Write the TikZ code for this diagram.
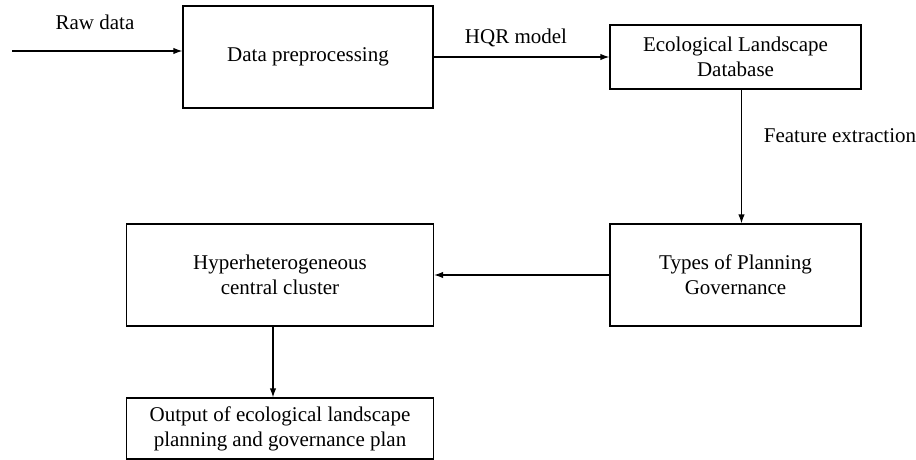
\documentclass[tikz,border=0pt]{standalone}
\usepackage{fontspec}
\setmainfont{Liberation Serif}
\usetikzlibrary{positioning}
\usetikzlibrary{arrows.meta}
\tikzset{
    stagebox/.style = {rectangle, draw=black, line width=0.6pt, align=center, inner sep=2pt, font=\fontsize{10.5}{12.6}\selectfont},
    tagtext/.style = {align=center, inner sep=0pt, font=\fontsize{10.5}{12.6}\selectfont},
    edgen/.style = {-{Latex[length=4.5pt,width=3.2pt]}, line width=0.6pt}
}
\begin{document}
\begin{tikzpicture}[x=0.5pt,y=-0.5pt]
\useasboundingbox (0,0) rectangle (916,460);
%
\node[stagebox, minimum width=125pt, minimum height=51pt] at (308,57) (dp) {Data preprocessing};
\node[stagebox, minimum width=125.5pt, minimum height=32pt] at (735.5,57) (eld) {Ecological Landscape\\Database};
\node[stagebox, minimum width=125.5pt, minimum height=51pt] at (735.5,275) (tpg) {Types of Planning\\Governance};
\node[stagebox, minimum width=153.5pt, minimum height=51pt] at (280,275) (hcc) {Hyperheterogeneous\\central cluster};
\node[stagebox, minimum width=153.5pt, minimum height=30.5pt] at (280,428.5) (out) {Output of ecological landscape\\planning and governance plan};
\coordinate (rawin) at (12,51);
\node[tagtext] at (95,22) (rawlbl) {Raw data};
\node[tagtext] at (516,38) (hqrlbl) {HQR model};
\node[tagtext] at (840,136) (featlbl) {Feature extraction};
%
\draw[edgen] (rawin) -- (rawin -| dp.west);
\draw[edgen] (dp.east) -- (eld.west);
\draw[edgen] ([xshift=3pt]eld.south) -- ([xshift=3pt]tpg.north);
\draw[edgen] (tpg.west) -- (hcc.east);
\draw[edgen] ([xshift=-3.5pt]hcc.south) -- ([xshift=-3.5pt]out.north);
\end{tikzpicture}
\end{document}
